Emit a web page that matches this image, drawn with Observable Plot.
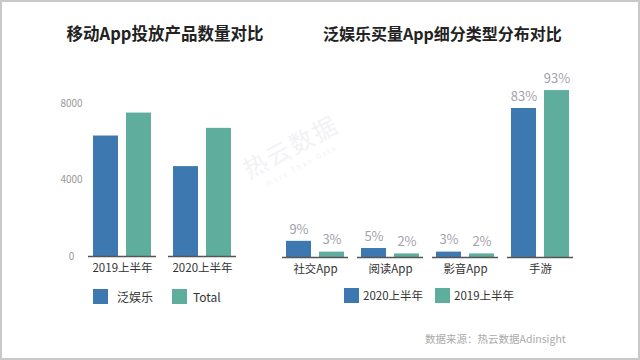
<!DOCTYPE html>
<html><head><meta charset="utf-8">
<script src="https://cdn.jsdelivr.net/npm/d3@7"></script>
<script src="https://cdn.jsdelivr.net/npm/@observablehq/plot@0.6"></script>
<style>
body{margin:0;background:#fff;}
#root{position:relative;width:640px;height:360px;background:#fff;overflow:hidden;font-family:"Noto Sans CJK SC","Noto Sans",sans-serif;}
.abs{position:absolute;white-space:nowrap;}
.frame{position:absolute;left:0;top:0;width:640px;height:360px;box-sizing:border-box;border:2px solid #c8c8c8;pointer-events:none;}
.sw{position:absolute;width:15px;height:15px;}
</style></head><body><div id="root"></div>
<script>
// ---- data ----
const leftGroups = ["2019上半年", "2020上半年"];
const leftSeries = ["泛娱乐", "Total"];
const leftPanyule = [6300, 4700];
const leftTotal = [7500, 6700];
const leftTicks = [0, 4000, 8000];

const rightCategories = ["社交App", "阅读App", "影音App", "手游"];
const rightSeries = ["2020上半年", "2019上半年"];
const right2020 = [9, 5, 3, 83];
const right2019 = [3, 2, 2, 93];

const titles = ["移动App投放产品数量对比", "泛娱乐买量App细分类型分布对比"];
const caption = "数据来源：热云数据Adinsight";

const BLUE = "#3e78b1";
const TEAL = "#5fae9d";
const FONT = '"Noto Sans CJK SC","Noto Sans",sans-serif';

const root = document.getElementById("root");
function addDiv(cls, css, text) {
  const d = document.createElement("div");
  d.className = cls;
  d.style.cssText = css;
  if (text != null) d.textContent = text;
  root.appendChild(d);
  return d;
}

// watermark
addDiv("abs", "left:238px;top:128px;font-size:24px;color:#f2f2f5;transform:rotate(-28deg);letter-spacing:2px;", "热云数据");
addDiv("abs", "left:262px;top:160px;font-size:7px;color:#f2f2f5;transform:rotate(-28deg);letter-spacing:2px;", "More Than Data");

// titles
addDiv("abs", "left:0;width:330px;text-align:center;top:20px;font-size:16.5px;font-weight:bold;color:#222;line-height:26px;", titles[0]);
addDiv("abs", "left:323px;top:21px;font-size:16px;font-weight:bold;color:#222;line-height:24px;", titles[1]);

// ---- left chart ----
const leftData = leftGroups.flatMap((g, i) => [
  {group: g, series: leftSeries[0], value: leftPanyule[i]},
  {group: g, series: leftSeries[1], value: leftTotal[i]}
]);

const leftPlot = Plot.plot({
  width: 250, height: 200,
  marginLeft: 88, marginRight: 14, marginTop: 13, marginBottom: 34,
  style: {fontFamily: FONT, background: "transparent", overflow: "visible"},
  fx: {domain: leftGroups, paddingInner: 0.15, paddingOuter: 0, label: null},
  x: {domain: leftSeries, paddingInner: 0.24, paddingOuter: 0.15, axis: null},
  y: {domain: [0, 8000], axis: null},
  color: {domain: leftSeries, range: [BLUE, TEAL]},
  marks: [
    Plot.barY(leftData, {fx: "group", x: "series", y: "value", fill: "series"}),
    Plot.ruleY([0], {stroke: "#555", strokeWidth: 1.5}),
    Plot.axisY(leftTicks, {anchor: "left", label: null, tickFormat: d => String(d), tickSize: 0, tickPadding: 17, textAnchor: "middle", fill: "#999", fontSize: 10}),
    Plot.axisFx({anchor: "bottom", tickSize: 0, tickPadding: 7, fontSize: 11.5, fill: "#333", label: null})
  ]
});
leftPlot.style.position = "absolute";
leftPlot.style.left = "0px";
leftPlot.style.top = "90px";
root.appendChild(leftPlot);

// ---- right chart ----
const rightData = rightCategories.flatMap((c, i) => [
  {cat: c, series: rightSeries[0], value: right2020[i]},
  {cat: c, series: rightSeries[1], value: right2019[i]}
]);

const rightPlot = Plot.plot({
  width: 390, height: 230,
  marginLeft: 32, marginRight: 67, marginTop: 17.5, marginBottom: 33,
  style: {fontFamily: FONT, background: "transparent", overflow: "visible"},
  fx: {domain: rightCategories, paddingInner: 0.12, paddingOuter: 0, label: null},
  x: {domain: rightSeries, paddingInner: 0.24, paddingOuter: 0.12, axis: null},
  y: {domain: [0, 100], axis: null},
  color: {domain: rightSeries, range: [BLUE, TEAL]},
  marks: [
    Plot.barY(rightData, {fx: "cat", x: "series", y: "value", fill: "series"}),
    Plot.text(rightData, {fx: "cat", x: "series", y: "value", text: d => d.value + "%", dy: -12, fill: "#a2a2ac", fontSize: 13}),
    Plot.ruleY([0], {stroke: "#555", strokeWidth: 1.5}),
    Plot.axisFx({anchor: "bottom", tickSize: 0, tickPadding: 7, fontSize: 11.5, fill: "#333", label: null})
  ]
});
rightPlot.style.position = "absolute";
rightPlot.style.left = "250px";
rightPlot.style.top = "60px";
root.appendChild(rightPlot);

// ---- legends ----
const legLeftX = [[93, 117], [172, 193]];
leftSeries.forEach((s, i) => {
  addDiv("sw", `left:${legLeftX[i][0]}px;top:289px;background:${[BLUE, TEAL][i]};`);
  addDiv("abs", `left:${legLeftX[i][1]}px;top:288px;font-size:12px;line-height:17px;color:#333;`, s);
});
const legRightX = [[344, 363], [435, 454]];
rightSeries.forEach((s, i) => {
  addDiv("sw", `left:${legRightX[i][0]}px;top:288px;background:${[BLUE, TEAL][i]};`);
  addDiv("abs", `left:${legRightX[i][1]}px;top:287px;font-size:11.5px;line-height:17px;color:#333;`, s);
});

// caption
addDiv("abs", "left:425px;top:331px;font-size:10.5px;line-height:16px;color:#aaa;", caption);

// frame
addDiv("frame", "");
</script>
</body></html>
